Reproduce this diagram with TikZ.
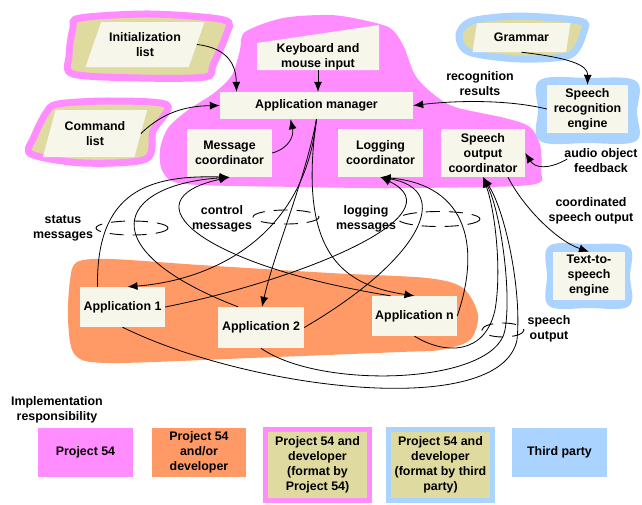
\documentclass[tikz,border=0pt]{standalone}
\usepackage{fontspec}
\setmainfont{Liberation Sans}
\usepackage{xcolor}
\usetikzlibrary{calc, shapes.geometric, arrows.meta}

\definecolor{pinkP}{HTML}{FF8DFF}
\definecolor{orangeD}{HTML}{FF9A66}
\definecolor{blueT}{HTML}{AAD3FF}
\definecolor{oliveF}{HTML}{DFDBA0}
\definecolor{creamB}{HTML}{F7F6EA}

\begin{document}
\begin{tikzpicture}[x=1pt, y=-1pt, >={Latex[length=10pt, width=8pt]},
    every node/.style={font=\fontsize{12.4}{15}\selectfont\bfseries, align=center, inner sep=0pt},
    box/.style={fill=creamB},
    doc/.style={trapezium, trapezium stretches=true, fill=creamB},
    link/.style={->, line width=0.8pt},
    bundle/.style={dash pattern=on 14pt off 9pt, line width=0.9pt}]
    \useasboundingbox (0,0) rectangle (642,504);

    % Vùng trách nhiệm
    \fill[pinkP] plot[smooth cycle] coordinates {(245,32) (283,18) (330,15) (363,20) (390,28)
        (403,45) (415,75) (432,93) (455,107) (505,118) (530,127) (540,145) (541,170) (530,185)
        (400,188) (300,187) (185,184) (163,172) (160,150) (168,128) (188,110) (214,93) (232,75) (240,50)};
    \fill[orangeD] plot[smooth cycle] coordinates {(77,262) (110,259) (200,265) (330,273) (427,278)
        (463,288) (478,315) (470,340) (440,350) (400,352) (250,358) (110,363) (75,355) (68,320) (70,280)};
    \filldraw[fill=oliveF, draw=pinkP, line width=7pt] plot[smooth cycle] coordinates {(80,18) (150,14)
        (224,20) (226,35) (213,65) (205,77) (140,78) (73,74) (69,56) (73,28)};
    \filldraw[fill=oliveF, draw=pinkP, line width=7pt] plot[smooth cycle] coordinates {(58,104) (110,101)
        (167,105) (153,131) (146,159) (83,163) (31,154) (34,137) (46,113)};
    \filldraw[fill=oliveF, draw=blueT, line width=7pt] plot[smooth cycle] coordinates {(459,35) (472,21)
        (520,16) (580,21) (584,31) (570,55) (520,59) (469,52)};
    \fill[blueT] plot[smooth cycle, tension=0.6] coordinates {(540,80) (588,78) (636,81) (637,112)
        (636,141) (588,143) (540,141) (538,110)};
    \fill[blueT] plot[smooth cycle, tension=0.6] coordinates {(549,246) (589,244) (629,247) (630,276)
        (629,306) (589,308) (549,306) (547,276)};
    \fill[creamB] (257,70) -- (379,70) -- (379,25) -- (257,43) -- cycle;

    % Các khối
    \node[doc, trapezium left angle=62, trapezium right angle=118, minimum width=120, minimum height=45]
        (init) at (145,44.5) {Initialization\\list};
    \node[doc, trapezium left angle=68, trapezium right angle=112, minimum width=105, minimum height=47]
        (cmd) at (95,133.5) {Command\\list};
    \node[doc, trapezium left angle=73, trapezium right angle=107, minimum width=98, minimum height=29]
        (gram) at (521.5,37.5) {Grammar};
    \node (kbd) at (318,57) {Keyboard and\\mouse input};
    \node[box, minimum width=193, minimum height=27] (appm) at (316.5,105.5) {Application manager};
    \node[box, minimum width=85, minimum height=48] (msgc) at (229.5,153) {Message\\coordinator};
    \node[box, minimum width=85, minimum height=48] (logc) at (380.5,153) {Logging\\coordinator};
    \node[box, minimum width=84, minimum height=48] (spoc) at (483,153) {Speech\\output\\coordinator};
    \node[box, minimum width=81, minimum height=48] (sre) at (587.5,109) {Speech\\recognition\\engine};
    \node[box, minimum width=72, minimum height=48] (tts) at (589,276) {Text-to-\\speech\\engine};
    \node[box, minimum width=85, minimum height=40] (app1) at (122.5,307) {Application 1};
    \node[box, minimum width=86, minimum height=41] (app2) at (261,327.5) {Application 2};
    \node[box, minimum width=85, minimum height=40] (appn) at (414.5,316) {Application n};

    % Nhãn
    \node (recres) at (480,84) {recognition\\results};
    \node (audiofb) at (601,161) {audio object\\feedback};
    \node (coordout) at (591,211) {coordinated\\speech output};
    \node (status) at (63,228) {status\\messages};
    \node (control) at (222,219) {control\\messages};
    \node (logging) at (366,219) {logging\\messages};
    \node (speechout) at (549,329) {speech\\output};

    % Mũi tên
    \draw[link] (init.east) .. controls (228,48) and (236,65) .. ([xshift=-80]appm.north);
    \draw[link] (cmd.east) .. controls (165,110) and (190,106) .. (appm.west);
    \draw[link] (kbd.south) -- (kbd.south |- appm.north);
    \draw[link] (msgc.east) .. controls (290,148) and (294,135) .. ([xshift=-26]appm.south);
    \draw[link] (gram.south) .. controls (570,58) and (588,65) .. (sre.north);
    \draw[link] (sre.west) .. controls (510,100) and (460,100) .. (appm.east);
    \draw[link] ([xshift=3,yshift=2]audiofb.west) .. controls (548,170) and (535,168) .. (spoc.east);
    \draw[link] ([xshift=25]spoc.south) .. controls (522,205) and (555,240) .. (tts.north);

    \draw[link] (appm.south) .. controls (305,235) and (215,280) .. ([xshift=5]app1.north);
    \draw[link] (appm.south) .. controls (305,180) and (275,250) .. ([xshift=1]app2.north);
    \draw[link] (appm.south) .. controls (298,250) and (340,285) .. (appn.north);

    \draw[link] ([xshift=-25]app1.north) .. controls (96,190) and (150,175) .. (msgc.south);
    \draw[link] ([xshift=-23]app2.north) .. controls (90,250) and (115,185) .. (msgc.south);
    \draw[link] ([xshift=-24]appn.north) .. controls (200,265) and (125,200) .. (msgc.south);

    \draw[link] (app1.east) .. controls (300,280) and (460,215) .. (logc.south);
    \draw[link] (app2.east) .. controls (420,260) and (455,190) .. (logc.south);
    \draw[link] (appn.east) .. controls (480,250) and (470,185) .. (logc.south);

    \draw[link] (appn.south) .. controls (445,355) and (485,355) .. (495,310)
        .. controls (502,270) and (495,210) .. (spoc.south);
    \draw[link] (app2.south) .. controls (320,390) and (495,385) .. (505,330)
        .. controls (512,290) and (500,210) .. (spoc.south);
    \draw[link] (app1.south) .. controls (250,390) and (500,420) .. (517,340)
        .. controls (522,290) and (505,210) .. (spoc.south);

    % Nhóm thông điệp
    \draw[bundle] (132,228) ellipse (36 and 7);
    \draw[bundle] (286,217) ellipse (33 and 7);
    \draw[bundle] (439,219) ellipse (41 and 7.5);
    \draw[bundle] (503,330) ellipse (21 and 7);

    % Chú giải
    \node (impl) at (57,410) {Implementation\\responsibility};
    \node[fill=pinkP, minimum width=95, minimum height=49] (leg1) at (85.5,452.5) {Project 54};
    \node[fill=orangeD, minimum width=94, minimum height=49] (leg2) at (199,452.5) {Project 54\\and/or\\developer};
    \node[fill=oliveF, draw=pinkP, line width=5pt, minimum width=104, minimum height=71]
        (leg3) at (317.5,465) {Project 54 and\\developer\\(format by\\Project 54)};
    \node[fill=oliveF, draw=blueT, line width=5pt, minimum width=104, minimum height=71]
        (leg4) at (440.5,465) {Project 54 and\\developer\\(format by third\\party)};
    \node[fill=blueT, minimum width=95, minimum height=49] (leg5) at (559.5,452.5) {Third party};
\end{tikzpicture}
\end{document}
